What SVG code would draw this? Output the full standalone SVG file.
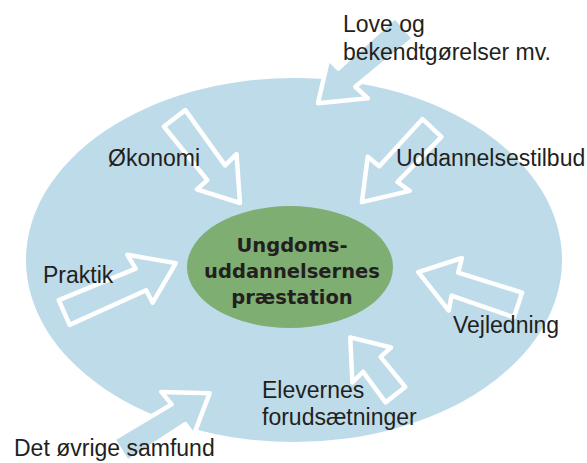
<svg xmlns="http://www.w3.org/2000/svg" width="587" height="463" viewBox="0 0 587 463">
<style>
.lbl{font-family:"Liberation Sans",Arial,sans-serif;font-size:23px;fill:#231f20}
.ctr{font-family:"DejaVu Sans",Verdana,sans-serif;font-size:19.5px;font-weight:bold;fill:#231f20;text-anchor:middle}
.arr{fill:#bddbe9;stroke:#fff;stroke-width:4.5;stroke-linejoin:round}
</style>
<rect width="587" height="463" fill="#fff"/>
<g id="field"><ellipse cx="294" cy="260" rx="268" ry="182" fill="#bddbe9"/></g>
<g id="connectors">
<path class="arr" transform="translate(405,28) rotate(139.2)" d="M0,-14 L76,-12 L74,-29 L115,0 L78,27 L77,13 L0,15 Z"/>
<path class="arr" transform="translate(175,118) rotate(52.6)" d="M0,-13 L68,-11 L66,-27 L107,0 L70,26 L69,12 L0,14 Z"/>
<path class="arr" transform="translate(432,128) rotate(133.4)" d="M0,-13 L63,-12 L61,-27 L102,0 L65,27 L64,12 L0,13 Z"/>
<path class="arr" transform="translate(64,312) rotate(-23.6)" d="M0,-13 L83,-11 L81,-27 L122,0 L85,27 L84,13 L0,14 Z"/>
<path class="arr" transform="translate(518,305) rotate(-161.7)" d="M0,-13 L66,-12 L64,-27 L105,0 L68,27 L67,12 L0,13 Z"/>
<path class="arr" transform="translate(395,395) rotate(-127.8)" d="M0,-12 L38,-11 L36,-26 L73,0 L40,26 L39,12 L0,13 Z"/>
<path class="arr" transform="translate(120,450) rotate(-32.3)" d="M0,-13 L68,-11 L66,-27 L106,0 L70,27 L69,13 L0,14 Z"/>
</g>
<g id="center">
<ellipse cx="290" cy="267" rx="103" ry="61" fill="#7fae73"/>
<text class="ctr" x="292" y="252">Ungdoms-</text>
<text class="ctr" x="292" y="278">uddannelsernes</text>
<text class="ctr" x="292" y="304">præstation</text>
</g>
<g id="love"><text class="lbl" x="343" y="32">Love og</text><text class="lbl" x="343" y="60">bekendtgørelser mv.</text></g>
<g id="okonomi"><text class="lbl" x="108" y="166">Økonomi</text></g>
<g id="uddannelsestilbud"><text class="lbl" x="396" y="166">Uddannelsestilbud</text></g>
<g id="praktik"><text class="lbl" x="43" y="283">Praktik</text></g>
<g id="vejledning"><text class="lbl" x="453" y="333">Vejledning</text></g>
<g id="elevernes"><text class="lbl" x="262" y="398">Elevernes</text><text class="lbl" x="262" y="425">forudsætninger</text></g>
<g id="samfund"><text class="lbl" x="14" y="456">Det øvrige samfund</text></g>
</svg>
